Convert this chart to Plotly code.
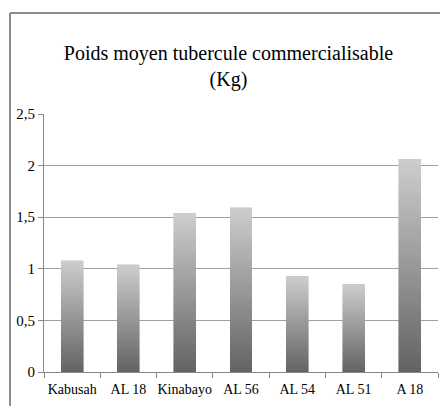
import plotly.graph_objects as go

categories = ["Kabusah", "AL 18", "Kinabayo", "AL 56", "AL 54", "AL 51", "A 18"]
values = [1.08, 1.04, 1.54, 1.59, 0.93, 0.85, 2.06]
y_ticks = [0, 0.5, 1, 1.5, 2, 2.5]
y_tick_labels = ["0", "0,5", "1", "1,5", "2", "2,5"]
title_text = "Poids moyen tubercule commercialisable<br>(Kg)"

N = 40
dark = (100, 100, 100)
light = (204, 204, 204)
FONT = '"Liberation Serif", "DejaVu Serif", serif'

fig = go.Figure()
for k in range(N):
    t = k / (N - 1)
    c = tuple(round(dark[i] + (light[i] - dark[i]) * t) for i in range(3))
    col = "rgb(%d,%d,%d)" % c
    fig.add_trace(go.Bar(
        x=categories,
        y=[v / N for v in values],
        marker=dict(color=col, line=dict(color=col, width=0.6)),
        showlegend=False,
        hoverinfo="skip",
    ))

W, H = 440, 406
L, R, T, B = 44, 2, 114, 34
pw, ph = W - L - R, H - T - B
bx = (10 - L) / pw
by = (H - B - 13) / ph

fig.update_layout(
    width=W, height=H,
    margin=dict(l=L, r=R, t=T, b=B),
    barmode="stack",
    bargap=0.61,
    separators=", ",
    paper_bgcolor="white",
    plot_bgcolor="white",
    font=dict(family=FONT, size=14, color="black"),
    title=dict(text=title_text, x=228.5 / W, xref="container", xanchor="center",
               y=1 - 60 / H, yref="container", yanchor="middle",
               font=dict(family=FONT, size=20, color="black")),
    xaxis=dict(
        type="category",
        tickson="boundaries",
        ticks="outside", ticklen=5, tickcolor="#888888",
        showline=True, linecolor="#888888", linewidth=1,
        showgrid=False,
        tickangle=0,
        ticklabelstandoff=4,
        tickfont=dict(family=FONT, size=14),
    ),
    yaxis=dict(
        range=[0, 2.5],
        tickvals=y_ticks, ticktext=y_tick_labels,
        ticks="outside", ticklen=5, tickcolor="#888888",
        showline=True, linecolor="#888888", linewidth=1,
        showgrid=True, gridcolor="#a0a0a0", gridwidth=1,
        zeroline=False,
        tickfont=dict(family=FONT, size=15),
    ),
    shapes=[
        dict(type="line", xref="paper", yref="paper", x0=bx, x1=bx, y0=-0.5, y1=by,
             line=dict(color="#8c8c8c", width=2)),
        dict(type="line", xref="paper", yref="paper", x0=bx, x1=1.2, y0=by, y1=by,
             line=dict(color="#8c8c8c", width=2)),
    ],
)

fig.write_html(
    "out.html",
    config={"displayModeBar": False},
    post_script="document.body.style.margin='0';document.body.style.overflow='hidden';",
)
